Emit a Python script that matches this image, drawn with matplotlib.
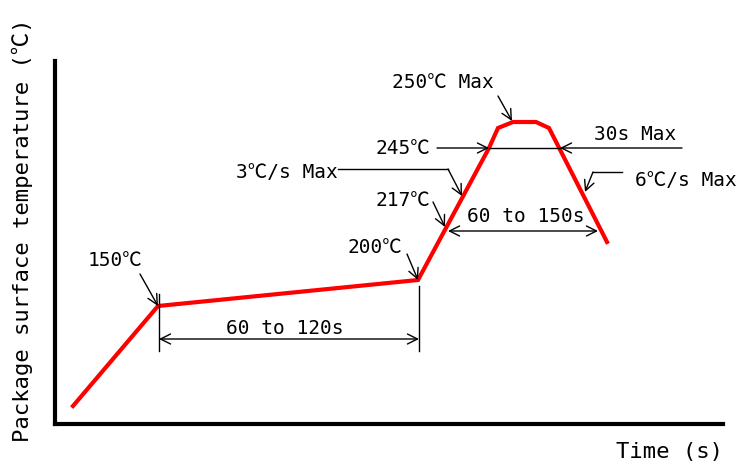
import matplotlib.pyplot as plt

# schematic reflow profile (arbitrary schematic units, origin at axis corner)
time = [18, 103, 363, 434, 443, 458, 481, 494, 552]
temp = [18, 118, 144, 276, 296, 302, 302, 296, 182]

labels_temp = ["150℃", "200℃", "217℃", "245℃", "250℃ Max"]
label_rate_up = "3℃/s Max"
label_rate_down = "6℃/s Max"
label_soak = "60 to 120s"
label_liquidus = "60 to 150s"
label_peak = "30s Max"

mono = ['DejaVu Sans Mono', 'Noto Sans CJK JP']
fs = 14

fig = plt.figure(figsize=(7.39, 4.64), dpi=100)
ax = fig.add_axes([55 / 739, 39 / 464, 668 / 739, 363 / 464])
ax.set_xlim(0, 668)
ax.set_ylim(0, 363)
for s in ['top', 'right']:
    ax.spines[s].set_visible(False)
for s in ['left', 'bottom']:
    ax.spines[s].set_linewidth(3)
ax.set_xticks([])
ax.set_yticks([])

ax.plot(time, temp, color='red', lw=3, solid_joinstyle='miter')

thin = dict(arrowstyle='->', color='black', lw=1, shrinkA=0, shrinkB=0,
            mutation_scale=18)
dbl = dict(arrowstyle='<->', color='black', lw=1, shrinkA=0, shrinkB=0,
           mutation_scale=18)

# 150C
ax.annotate('', xy=(time[1], temp[1]), xytext=(85, 150), arrowprops=thin)
ax.text(60, 165, labels_temp[0], family=mono, fontsize=fs, ha='center', va='center')
# 200C
ax.annotate('', xy=(time[2], temp[2]), xytext=(352, 170), arrowprops=thin)
ax.text(320, 177, labels_temp[1], family=mono, fontsize=fs, ha='center', va='center')
# 217C
ax.annotate('', xy=(390, 197), xytext=(378, 222), arrowprops=thin)
ax.text(375, 225, labels_temp[2], family=mono, fontsize=fs, ha='right', va='center')
# 3C/s
ax.plot([283, 393], [255, 255], color='black', lw=1)
ax.annotate('', xy=(407, 228), xytext=(393, 255), arrowprops=thin)
ax.text(283, 253, label_rate_up, family=mono, fontsize=fs, ha='right', va='center')
# 245C line
ax.plot([434, 505], [276, 276], color='black', lw=1)
ax.annotate('', xy=(434, 276), xytext=(382, 276), arrowprops=thin)
ax.annotate('', xy=(505, 276), xytext=(627, 276), arrowprops=thin)
ax.text(375, 276, labels_temp[3], family=mono, fontsize=fs, ha='right', va='center')
ax.text(580, 290, label_peak, family=mono, fontsize=fs, ha='center', va='center')
# 250C Max
ax.annotate('', xy=(457, 303), xytext=(443, 328), arrowprops=thin)
ax.text(388, 343, labels_temp[4], family=mono, fontsize=fs, ha='center', va='center')
# 6C/s
ax.plot([538, 567], [252, 252], color='black', lw=1)
ax.annotate('', xy=(530, 232), xytext=(538, 252), arrowprops=thin)
ax.text(580, 245, label_rate_down, family=mono, fontsize=fs, ha='left', va='center')
# 60 to 150s
ax.annotate('', xy=(393, 193), xytext=(543, 193), arrowprops=dbl)
ax.text(471, 208, label_liquidus, family=mono, fontsize=fs, ha='center', va='center')
# 60 to 120s
ax.plot([104, 104], [73, 130], color='black', lw=1)
ax.plot([364, 364], [73, 138], color='black', lw=1)
ax.annotate('', xy=(104, 85), xytext=(364, 85), arrowprops=dbl)
ax.text(230, 96, label_soak, family=mono, fontsize=fs, ha='center', va='center')

fig.text(670 / 739, 1 - 452 / 464, "Time (s)", family=mono, fontsize=16,
         ha='center', va='center')
fig.text(22 / 739, 1 - 230 / 464, "Package surface temperature (℃)",
         family=mono, fontsize=16, rotation=90, ha='center', va='center')

fig.savefig('out.png', dpi=100)
